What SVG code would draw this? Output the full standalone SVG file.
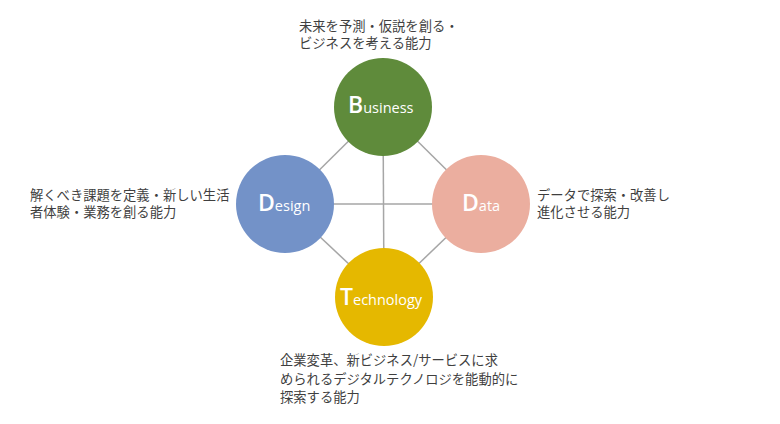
<svg xmlns="http://www.w3.org/2000/svg" width="780" height="424" viewBox="0 0 780 424">
<style>
.jp{font-family:"Noto Sans CJK JP","Noto Sans",sans-serif;font-size:13.3px;fill:#3f3f3f}
.lbl{font-family:"Open Sans","Noto Sans",sans-serif;fill:#ffffff;font-size:14.5px}
.big{font-size:23px;font-weight:600}
.conn{stroke:#a6a6a6;stroke-width:1.5;fill:none}
</style>
<rect width="780" height="424" fill="#ffffff"/>
<g id="connectors">
<line class="conn" x1="383" y1="107" x2="285" y2="204"/>
<line class="conn" x1="383" y1="107" x2="481" y2="204"/>
<line class="conn" x1="285" y1="204" x2="384" y2="297"/>
<line class="conn" x1="481" y1="204" x2="384" y2="297"/>
<line class="conn" x1="383" y1="107" x2="384" y2="297"/>
<line class="conn" x1="285" y1="204" x2="481" y2="204"/>
</g>
<g id="business">
<circle cx="383" cy="107" r="49" fill="#5f8b3b"/>
<text class="lbl" x="348" y="113"><tspan class="big">B</tspan>usiness</text>
</g>
<g id="design">
<circle cx="285" cy="204" r="49" fill="#7392c8"/>
<text class="lbl" x="258" y="211"><tspan class="big">D</tspan>esign</text>
</g>
<g id="data">
<circle cx="481" cy="204" r="49" fill="#ebae9f"/>
<text class="lbl" x="462" y="211"><tspan class="big">D</tspan>ata</text>
</g>
<g id="technology">
<circle cx="384" cy="297" r="49" fill="#e5b800"/>
<text class="lbl" x="340" y="305"><tspan class="big">T</tspan>echnology</text>
</g>
<g id="text-business">
<text class="jp" x="299" y="31">未来を予測・仮説を創る・</text>
<text class="jp" x="299" y="48">ビジネスを考える能力</text>
</g>
<g id="text-design">
<text class="jp" x="30" y="200">解くべき課題を定義・新しい生活</text>
<text class="jp" x="30" y="217">者体験・業務を創る能力</text>
</g>
<g id="text-data">
<text class="jp" x="537" y="200">データで探索・改善し</text>
<text class="jp" x="537" y="217">進化させる能力</text>
</g>
<g id="text-technology">
<text class="jp" x="280" y="365">企業変革、新ビジネス/サービスに求</text>
<text class="jp" x="280" y="384">められるデジタルテクノロジを能動的に</text>
<text class="jp" x="280" y="402">探索する能力</text>
</g>
</svg>
